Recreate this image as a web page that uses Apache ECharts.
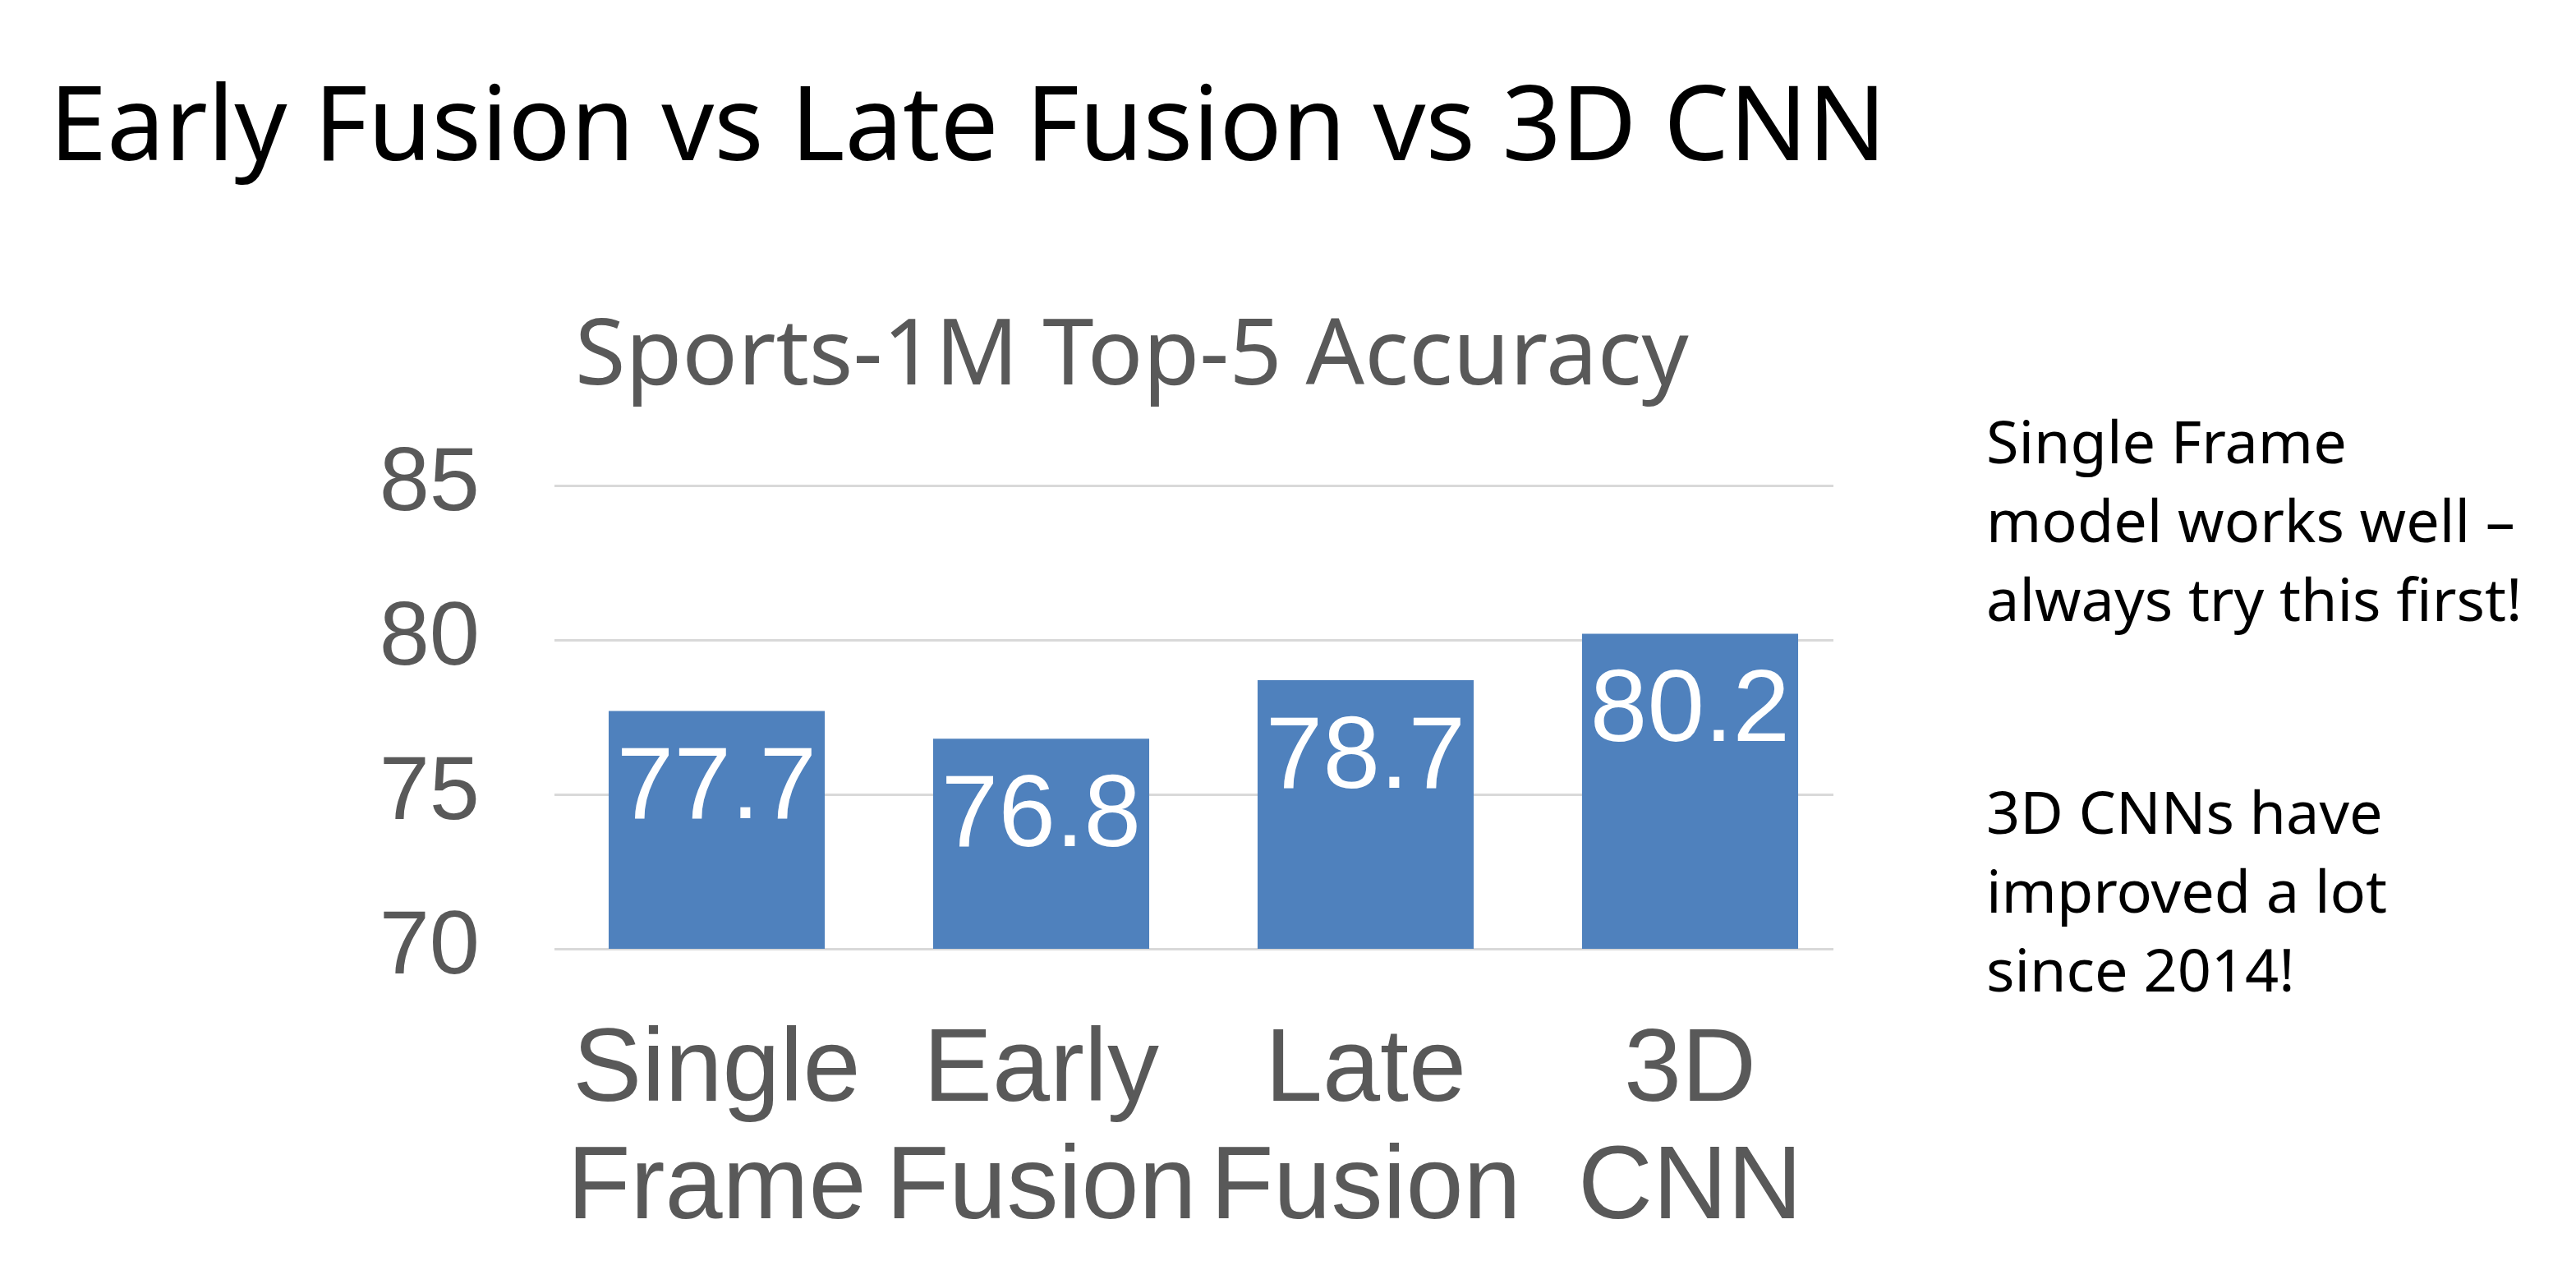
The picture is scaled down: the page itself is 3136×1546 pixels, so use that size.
<!DOCTYPE html>
<html>
<head>
<meta charset="utf-8">
<script src="https://cdn.jsdelivr.net/npm/echarts@6/dist/echarts.min.js"></script>
<style>
html,body{margin:0;padding:0;background:#ffffff;}
#chart{width:3136px;height:1546px;}
</style>
</head>
<body>
<div id="chart"></div>
<script>
// ---- data ----
var categories = ['Single\nFrame', 'Early\nFusion', 'Late\nFusion', '3D\nCNN'];
var accuracy = [77.7, 76.8, 78.7, 80.2];
var yMin = 70, yMax = 85, yStep = 5;
var mainTitle = 'Early Fusion vs Late Fusion vs 3D CNN';
var chartTitle = 'Sports-1M Top-5 Accuracy';
var note1 = 'Single Frame\nmodel works well \u2013\nalways try this first!';
var note2 = '3D CNNs have\nimproved a lot\nsince 2014!';

var gray = '#595959';
var chart = echarts.init(document.getElementById('chart'), null, {renderer: 'canvas'});
chart.setOption({
  backgroundColor: '#ffffff',
  animation: false,
  title: [
    {text: mainTitle, left: 60, top: 96, padding: 0,
     textStyle: {fontFamily: 'Noto Sans', fontSize: 126, fontWeight: 'normal', color: '#000000', lineHeight: 126}},
    {text: chartTitle, left: 700, top: 380, padding: 0,
     textStyle: {fontFamily: 'Noto Sans', fontSize: 112, fontWeight: 'normal', color: gray, lineHeight: 112}},
    {text: note1, left: 2418, top: 495, padding: 0,
     textStyle: {fontFamily: 'Noto Sans', fontSize: 72, fontWeight: 'normal', color: '#000000', lineHeight: 96}},
    {text: note2, left: 2418, top: 946, padding: 0,
     textStyle: {fontFamily: 'Noto Sans', fontSize: 72, fontWeight: 'normal', color: '#000000', lineHeight: 96}}
  ],
  grid: [
    {left: 675, top: 591, width: 1580, height: 564, containLabel: false},
    {left: 675, top: 591, width: 1557, height: 564, containLabel: false}
  ],
  xAxis: [
    {type: 'category', gridIndex: 0, data: categories,
     axisLine: {show: false}, axisTick: {show: false}, splitLine: {show: false},
     axisLabel: {interval: 0, margin: 79, color: gray, fontFamily: 'Liberation Sans, Arial', fontSize: 126, lineHeight: 143, align: 'center'}},
    {type: 'value', gridIndex: 1, min: 0, max: 1, show: false}
  ],
  yAxis: [
    {type: 'value', gridIndex: 0, min: yMin, max: yMax, interval: yStep, show: false},
    {type: 'value', gridIndex: 1, min: yMin, max: yMax, interval: yStep,
     axisLine: {show: false}, axisTick: {show: false},
     splitLine: {show: true, lineStyle: {color: '#D9D9D9', width: 3}},
     axisLabel: {margin: 91, color: gray, fontFamily: 'Liberation Sans, Arial', fontSize: 110}}
  ],
  series: [
    {type: 'bar', xAxisIndex: 0, yAxisIndex: 0, data: accuracy,
     barCategoryGap: '33.4%',
     itemStyle: {color: '#4F81BD'},
     z: 5,
     label: {show: true, position: 'insideTop', distance: 34, color: '#ffffff',
             fontFamily: 'Liberation Sans, Arial', fontSize: 125, lineHeight: 125,
             formatter: function (p) { return p.value.toFixed(1); }}},
    {type: 'line', xAxisIndex: 1, yAxisIndex: 1, data: [], silent: true}
  ]
});
</script>
</body>
</html>
